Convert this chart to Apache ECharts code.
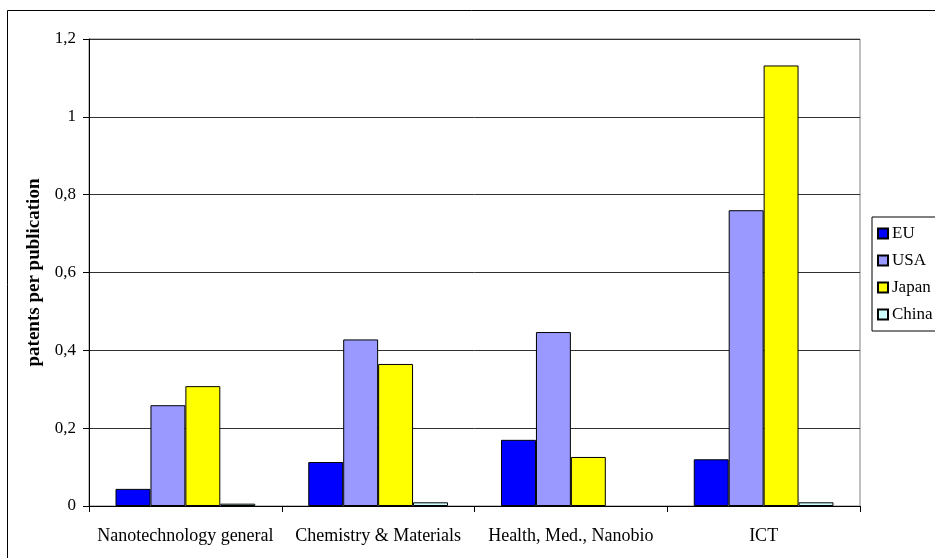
<!DOCTYPE html>
<html>
<head>
<meta charset="utf-8">
<script src="https://cdn.jsdelivr.net/npm/echarts@6/dist/echarts.min.js"></script>
<style>
  html, body { margin: 0; padding: 0; background: #fff; }
  #chart { width: 935px; height: 558px; }
</style>
</head>
<body>
<div id="chart"></div>
<script>
// Patents per publication by nanotechnology field
const categories = ['Nanotechnology general', 'Chemistry & Materials', 'Health, Med., Nanobio', 'ICT'];
const euValues    = [0.044, 0.113, 0.170, 0.120];
const usaValues   = [0.259, 0.428, 0.447, 0.760];
const japanValues = [0.308, 0.365, 0.126, 1.132];
const chinaValues = [0.006, 0.0095, null, 0.0095];
const seriesNames = ['EU', 'USA', 'Japan', 'China'];
const seriesColors = ['#0000FF', '#9999FF', '#FFFF00', '#CCFFFF'];

const FONT = '"Liberation Serif", "Times New Roman", serif';
const chart = echarts.init(document.getElementById('chart'), null, { renderer: 'canvas' });

const valueSets = [euValues, usaValues, japanValues, chinaValues];

chart.setOption({
  animation: false,
  backgroundColor: '#fff',
  textStyle: { fontFamily: FONT, color: '#000' },
  graphic: [{
    type: 'rect',
    shape: { x: 7.5, y: 10.5, width: 1000, height: 600 },
    style: { fill: 'none', stroke: '#000', lineWidth: 1 },
    z: -10,
    silent: true
  }],
  grid: {
    left: 89, top: 39, right: 75, bottom: 52,
    show: true, borderColor: '#808080', borderWidth: 1,
    containLabel: false
  },
  legend: {
    orient: 'vertical',
    left: 872, top: 217,
    padding: [8, 40, 8, 5],
    itemWidth: 10, itemHeight: 10, itemGap: 10,
    icon: 'rect',
    borderColor: '#000', borderWidth: 1,
    backgroundColor: '#fff',
    textStyle: { fontFamily: FONT, fontSize: 17, color: '#000', padding: [0, 0, 0, -1] },
    data: seriesNames
  },
  xAxis: {
    type: 'category',
    data: categories,
    boundaryGap: true,
    axisLine: { lineStyle: { color: '#000', width: 1 } },
    axisTick: { show: true, alignWithLabel: false, length: 6, lineStyle: { color: '#000' } },
    axisLabel: { fontFamily: FONT, fontSize: 18, color: '#000', margin: 21, interval: 0 },
    splitLine: { show: false }
  },
  yAxis: {
    type: 'value',
    min: 0, max: 1.2, interval: 0.2,
    name: 'patents per publication',
    nameLocation: 'middle',
    nameGap: 35,
    nameTextStyle: { fontFamily: FONT, fontSize: 19, fontWeight: 'bold', color: '#000' },
    axisLine: { show: true, lineStyle: { color: '#000', width: 1 } },
    axisTick: { show: true, length: 6, lineStyle: { color: '#000' } },
    axisLabel: {
      fontFamily: FONT, fontSize: 17, color: '#000', margin: 13,
      formatter: v => String(Math.round(v * 10) / 10).replace('.', ',')
    },
    splitLine: { show: true, lineStyle: { color: '#303030', width: 1 } }
  },
  series: seriesNames.map((name, i) => ({
    name,
    type: 'bar',
    data: valueSets[i],
    barGap: '0%',
    barCategoryGap: '27.5%',
    itemStyle: { color: seriesColors[i], borderColor: '#000', borderWidth: 1 }
  }))
});
</script>
</body>
</html>
